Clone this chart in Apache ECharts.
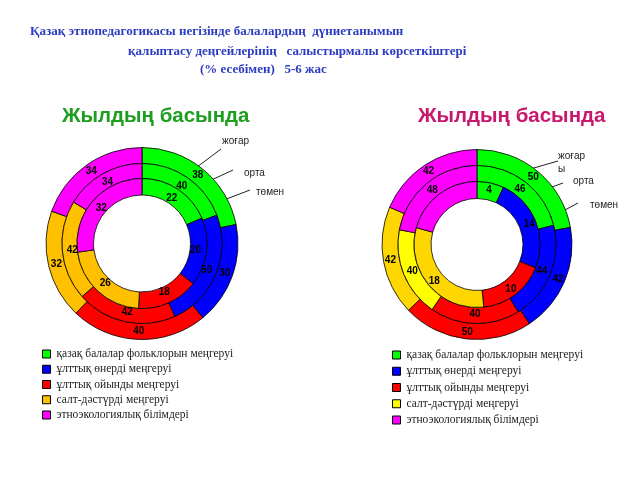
<!DOCTYPE html>
<html><head><meta charset="utf-8">
<script src="https://cdn.jsdelivr.net/npm/echarts@6/dist/echarts.min.js"></script>
<style>html,body{margin:0;padding:0;background:#fff}#c{width:640px;height:480px}</style>
</head><body><div id="c"></div><script>
const categories = [
  'қазақ балалар фольклорын меңгеруі',
  'ұлттық өнерді меңгеруі',
  'ұлттық ойынды меңгеруі',
  'салт-дәстүрді меңгеруі',
  'этноэкологиялық білімдері'
];
const levelNames = ['жоғар', 'орта', 'төмен'];
// left chart (outer = жоғары, middle = орта, inner = төмен)
const leftOuter  = [38, 30, 40, 32, 34];
const leftMiddle = [40, 50, 42, 42, 34];
const leftInner  = [22, 20, 18, 26, 32];
// right chart
const rightOuter  = [50, 42, 50, 42, 42];
const rightMiddle = [46, 44, 40, 40, 48];
const rightInner  = [4, 14, 10, 18, 12];

const titleLines = [
  'Қазақ этнопедагогикасы негізінде балалардың  дүниетанымын',
  'қалыптасу деңгейлерінің   салыстырмалы көрсеткіштері',
  '(% есебімен)   5-6 жас'
];
const headerText = 'Жылдың басында';

const leftColors = ['#00FF00', '#0000FF', '#FF0000', '#FFC000', '#FF00FF'];
const rightColorsOuter = ['#00FF00', '#0000FF', '#FF0000', '#FFD700', '#FF00FF'];
const rightColorsMiddle = ['#00FF00', '#0000FF', '#FF0000', '#FFFF00', '#FF00FF'];
const rightColorsInner = ['#00FF00', '#0000FF', '#FF0000', '#FFD700', '#FF00FF'];
const rightLegendColors = ['#00FF00', '#0000FF', '#FF0000', '#FFFF00', '#FF00FF'];

function ring(values, colors, center, radius, labelRadius) {
  const data = categories.map((n, i) => ({ name: n, value: values[i], itemStyle: { color: colors[i] } }));
  const vis = {
    type: 'pie', center: center, radius: radius, startAngle: 90, clockwise: true,
    avoidLabelOverlap: false, silent: true, label: { show: false }, labelLine: { show: false },
    itemStyle: { borderColor: '#000', borderWidth: 0.8 },
    emphasis: { disabled: true }, data: data
  };
  const lab = {
    type: 'pie', center: center, radius: labelRadius, startAngle: 90, clockwise: true,
    avoidLabelOverlap: false, silent: true, z: 5,
    itemStyle: { color: 'rgba(0,0,0,0)', borderWidth: 0 },
    label: { show: true, position: 'inside', formatter: '{c}', color: '#000',
      fontFamily: 'Liberation Sans', fontWeight: 'bold', fontSize: 10 },
    labelLine: { show: false }, emphasis: { disabled: true },
    data: categories.map((n, i) => ({ name: n, value: values[i] }))
  };
  return [vis, lab];
}

const LC = [142, 243.5], RC = [477, 244.5];
const series = [].concat(
  ring(leftOuter, leftColors, LC, [80, 96], [74, 96]),
  ring(leftMiddle, leftColors, LC, [65, 80], [54, 80]),
  ring(leftInner, leftColors, LC, [48.5, 65], [37, 65]),
  ring(rightOuter, rightColorsOuter, RC, [79, 95], [75, 95]),
  ring(rightMiddle, rightColorsMiddle, RC, [63, 79], [55, 79]),
  ring(rightInner, rightColorsInner, RC, [46, 63], [43, 63])
);

function legend(left, top, gap, colors) {
  return {
    orient: 'vertical', left: left, top: top, padding: 0, itemGap: gap,
    itemWidth: 8, itemHeight: 8, icon: 'rect', selectedMode: false,
    itemStyle: { borderColor: '#000', borderWidth: 1 },
    textStyle: { fontFamily: 'Liberation Serif', fontSize: 11.5, color: '#222', lineHeight: 12, padding: [0, 0, 0, 1] },
    data: categories.map((n, i) => ({ name: n, itemStyle: { color: colors[i], borderColor: '#000', borderWidth: 1 } }))
  };
}

function txt(x, y, text, font, fill) {
  return { type: 'text', x: x, y: y, silent: true,
    style: { text: text, font: font, fill: fill, verticalAlign: 'middle', textVerticalAlign: 'middle' } };
}
function line(x1, y1, x2, y2) {
  return { type: 'line', silent: true, shape: { x1, y1, x2, y2 }, style: { stroke: '#222', lineWidth: 1 } };
}
const tFont = 'bold 13px "Liberation Serif"';
const tCol = '#2a3cc0';
const aFont = '10px "Liberation Sans"';
const aCol = '#222';
const hFont = 'bold 20.5px "Liberation Sans"';
const graphics = [
  txt(30, 32, titleLines[0], tFont, tCol),
  txt(128, 52, titleLines[1], tFont, tCol),
  txt(200, 70, titleLines[2], tFont, tCol),
  txt(62, 116, headerText, hFont, '#1e9e1e'),
  txt(418, 116, headerText, hFont, '#c8186e'),
  // left annotations
  line(193, 170, 221, 149), txt(222, 141, levelNames[0], aFont, aCol),
  line(190, 190, 233, 170), txt(244, 173, levelNames[1], aFont, aCol),
  line(203, 208, 250, 190), txt(256, 192, levelNames[2], aFont, aCol),
  // right annotations
  line(527, 170, 558, 161), txt(558, 156, levelNames[0], aFont, aCol), txt(558, 169, 'ы', aFont, aCol),
  line(530, 195, 563, 183), txt(573, 181, levelNames[1], aFont, aCol),
  line(537, 225, 578, 203), txt(590, 205, levelNames[2], aFont, aCol),
  txt(87, 274, 'П', '9px "Liberation Sans"', '#000')
];

const chart = echarts.init(document.getElementById('c'), null, { renderer: 'canvas', width: 640, height: 480 });
chart.setOption({
  animation: false,
  backgroundColor: '#fff',
  legend: [legend(42, 348, 3.25, leftColors), legend(392, 349, 4.25, rightLegendColors)],
  series: series,
  graphic: graphics
});
</script></body></html>
